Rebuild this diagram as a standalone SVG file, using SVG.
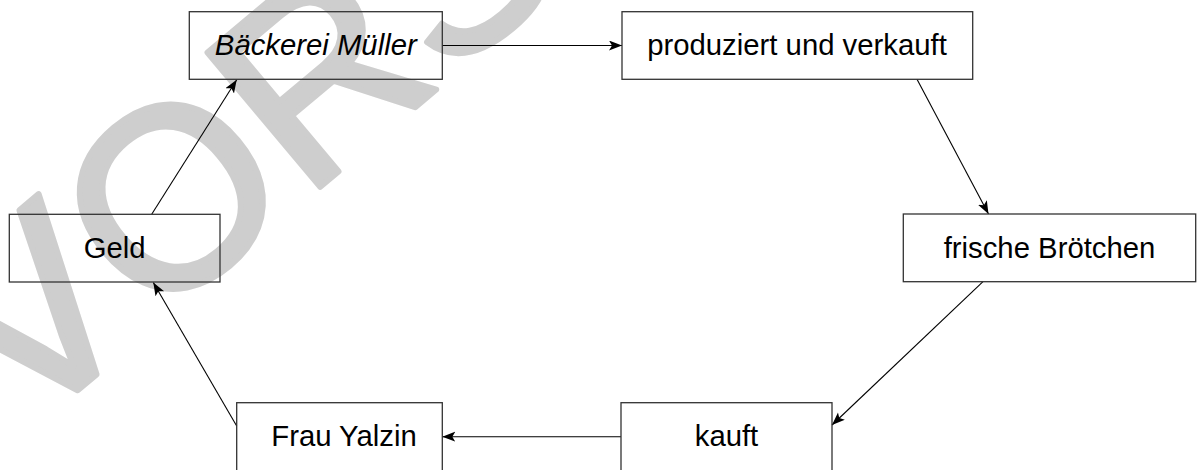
<svg xmlns="http://www.w3.org/2000/svg" width="1203" height="470" viewBox="0 0 1203 470">
  <style>
    .box { fill: none; stroke: #333333; stroke-width: 1.3; }
    .lbl { font-family: "Liberation Sans", Arial, sans-serif; font-size: 29.3px; fill: #000000; text-anchor: middle; }
    .it { font-style: italic; }
    .edge { stroke: #000000; stroke-width: 1.1; fill: none; marker-end: url(#arrow); }
    .mark { font-family: "Liberation Sans", Arial, sans-serif; font-size: 255px; fill: #cecece; stroke: #cecece; stroke-width: 6; stroke-linejoin: round; }
  </style>
  <defs>
    <marker id="arrow" markerUnits="userSpaceOnUse" markerWidth="14" markerHeight="12" refX="13" refY="5" orient="auto">
      <path d="M0,0 L13,5 L0,10 L3,5 z" fill="#000000"/>
    </marker>
  </defs>
  <rect width="1203" height="470" fill="#ffffff"/>

  <!-- background stamp -->
  <text class="mark" transform="translate(22,437) rotate(-40)">VORSCHAU</text>

  <!-- connectors -->
  <g id="connectors">
    <line class="edge" x1="442.3" y1="45.5" x2="622" y2="45.5"/>
    <line class="edge" x1="917" y1="79.3" x2="988.5" y2="214"/>
    <line class="edge" x1="983" y1="281.7" x2="832" y2="425"/>
    <line class="edge" x1="621" y1="436.7" x2="442.3" y2="436.7"/>
    <line class="edge" x1="236.7" y1="426" x2="153.3" y2="282.5"/>
    <line class="edge" x1="151.7" y1="214.3" x2="236.7" y2="79.8"/>
  </g>

  <!-- nodes -->
  <g id="baeckerei">
    <rect class="box" x="189.3" y="11.7" width="253" height="67.6"/>
    <text class="lbl it" x="315.8" y="55">Bäckerei Müller</text>
  </g>
  <g id="produziert">
    <rect class="box" x="622" y="11.7" width="350.7" height="67.6"/>
    <text class="lbl" x="797" y="55">produziert und verkauft</text>
  </g>
  <g id="broetchen">
    <rect class="box" x="903.3" y="214" width="292.4" height="67.7"/>
    <text class="lbl" x="1049.5" y="258">frische Brötchen</text>
  </g>
  <g id="kauft">
    <rect class="box" x="621" y="402.7" width="211" height="68"/>
    <text class="lbl" x="726.5" y="446">kauft</text>
  </g>
  <g id="frau-yalzin">
    <rect class="box" x="236.7" y="402.7" width="205.6" height="68"/>
    <text class="lbl" x="344" y="446">Frau Yalzin</text>
  </g>
  <g id="geld">
    <rect class="box" x="9.3" y="214.3" width="210.7" height="67.7"/>
    <text class="lbl" x="114.7" y="258">Geld</text>
  </g>
</svg>
